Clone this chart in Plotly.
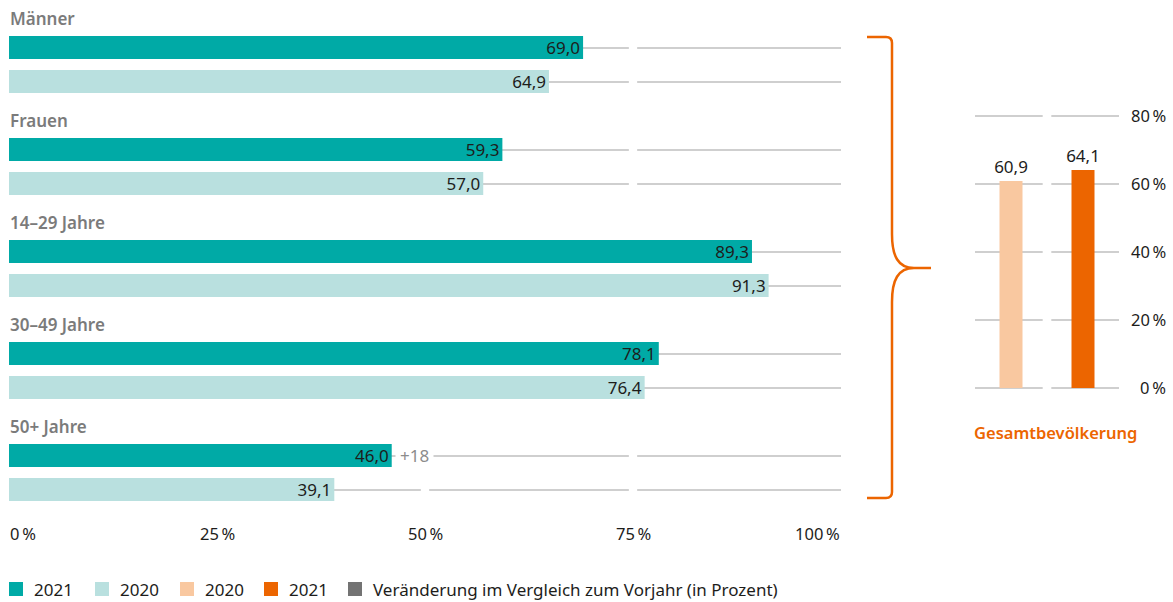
import plotly.graph_objects as go

W, H = 1173, 602

# ---------------- data ----------------
categories = ["Männer", "Frauen", "14–29 Jahre", "30–49 Jahre", "50+ Jahre"]
values_2021 = [69.0, 59.3, 89.3, 78.1, 46.0]
values_2020 = [64.9, 57.0, 91.3, 76.4, 39.1]
change_2021 = ["", "", "", "", "+18"]
x_ticks = [0, 25, 50, 75, 100]
x_tick_labels = ["0\u2009%", "25\u2009%", "50\u2009%", "75\u2009%", "100\u2009%"]

total_years = ["2020", "2021"]
total_values = [60.9, 64.1]
total_label = "Gesamtbevölkerung"
y2_ticks = [0, 20, 40, 60, 80]
y2_tick_labels = ["0\u2009%", "20\u2009%", "40\u2009%", "60\u2009%", "80\u2009%"]

legend_labels = ["2021", "2020", "2020", "2021",
                 "Veränderung im Vergleich zum Vorjahr (in Prozent)"]

# ---------------- styles ----------------
TEAL = "#00AAA6"
LTEAL = "#B9E0DF"
LORANGE = "#F9C8A0"
ORANGE = "#EC6500"
LEGGRAY = "#737373"
GRID = "#cfcfcf"
DARK = "#1d1d1b"
LABELGRAY = "#7b7b7b"
FONT = "Noto Sans"
legend_colors = [TEAL, LTEAL, LORANGE, ORANGE, LEGGRAY]
legend_x = [9, 95, 180, 264, 348]


def px(x):
    return x / W


def py(y):
    return 1 - y / H


BAND = 102.0          # pixel height of one category band
BAR_H = 23.0
SLOT = 17.0           # distance from band centre to bar centre
idx = list(range(len(categories)))

fig = go.Figure()

fig.add_trace(go.Bar(
    y=idx, x=values_2021, orientation="h", name="2021",
    offset=-(SLOT + BAR_H / 2) / BAND, width=BAR_H / BAND,
    marker=dict(color=TEAL, line=dict(width=0)),
    texttemplate="%{x:.1f}", textposition="inside", insidetextanchor="end",
    constraintext="none", textfont=dict(color=DARK, size=17, family=FONT),
    cliponaxis=False, showlegend=False, xaxis="x", yaxis="y"))
fig.add_trace(go.Bar(
    y=idx, x=values_2020, orientation="h", name="2020",
    offset=(SLOT - BAR_H / 2) / BAND, width=BAR_H / BAND,
    marker=dict(color=LTEAL, line=dict(width=0)),
    texttemplate="%{x:.1f}", textposition="inside", insidetextanchor="end",
    constraintext="none", textfont=dict(color=DARK, size=17, family=FONT),
    cliponaxis=False, showlegend=False, xaxis="x", yaxis="y"))

fig.add_trace(go.Bar(
    x=total_years, y=total_values, width=23 / 72,
    marker=dict(color=[LORANGE, ORANGE], line=dict(width=0)),
    texttemplate="%{y:.1f}", textposition="outside", constraintext="none",
    textfont=dict(color=DARK, size=17, family=FONT),
    cliponaxis=False, showlegend=False, xaxis="x2", yaxis="y2"))

row_lines = []
for i in idx:
    row_lines += [i - SLOT / BAND, i + SLOT / BAND]

fig.update_layout(
    width=W, height=H, margin=dict(l=0, r=0, t=0, b=0),
    paper_bgcolor="white", plot_bgcolor="white",
    barmode="overlay", separators=",.",
    font=dict(family=FONT, size=16, color=DARK),
    xaxis=dict(domain=[px(9), px(841)], range=[0, 100], showgrid=False,
               zeroline=False, showticklabels=False, ticks="", fixedrange=True),
    yaxis=dict(domain=[py(523.5), py(13.5)], range=[len(categories) - 0.5, -0.5],
               tickvals=row_lines, showgrid=True, gridcolor=GRID, gridwidth=2,
               zeroline=False, showticklabels=False, ticks=""),
    xaxis2=dict(domain=[px(975), px(1119)], range=[-0.5, 1.5], type="category",
                showgrid=False, zeroline=False, showticklabels=False, ticks="",
                anchor="y2"),
    yaxis2=dict(domain=[py(389.7), py(114.3)], range=[-0.5, 80.5],
                tickvals=y2_ticks, showgrid=True, gridcolor=GRID, gridwidth=1.5,
                zeroline=False, showticklabels=False, ticks="", anchor="x2"),
)

shapes = []
# gaps in row lines at tick positions
for t in x_ticks[1:-1]:
    shapes.append(dict(type="rect", xref="x", yref="y", x0=t - 0.5, x1=t + 0.5,
                       y0=-0.5, y1=len(categories) - 0.5, fillcolor="white",
                       line=dict(width=0), layer="between"))
shapes.append(dict(type="rect", xref="x2", yref="y2", x0=0.44, x1=0.56,
                   y0=-2, y1=82, fillcolor="white", line=dict(width=0),
                   layer="between"))


def path(cmds):
    out = []
    for c in cmds:
        if isinstance(c, str):
            out.append(c)
        else:
            out.append(f"{px(c[0]):.5f},{py(c[1]):.5f}")
    return " ".join(out)


brace = path(["M", (867, 37), "L", (886, 37), "Q", (892, 37), (892, 43),
              "L", (892, 234), "C", (892, 256), (898, 268), (914, 268),
              "L", (931, 268), "M", (914, 268),
              "C", (898, 268), (892, 280), (892, 302),
              "L", (892, 492), "Q", (892, 498), (886, 498), "L", (867, 498)])
shapes.append(dict(type="path", xref="paper", yref="paper", path=brace,
                   line=dict(color=ORANGE, width=2.5)))

# legend squares
for x, c in zip(legend_x, legend_colors):
    shapes.append(dict(type="rect", xref="paper", yref="paper",
                       x0=px(x), x1=px(x + 14), y0=py(596), y1=py(582),
                       fillcolor=c, line=dict(width=0)))
fig.update_layout(shapes=shapes)

ann = []
for i, c in zip(idx, categories):
    ann.append(dict(x=0, y=i, xref="x", yref="y", text=c, showarrow=False,
                    xanchor="left", yanchor="middle", yshift=46.5, xshift=-1,
                    font=dict(family=FONT, size=17, color=LABELGRAY, weight=600)))
for i, v, ch in zip(idx, values_2021, change_2021):
    if ch:
        ann.append(dict(x=v, y=i - SLOT / BAND, xref="x", yref="y", text=ch,
                        showarrow=False, xanchor="left", yanchor="middle",
                        xshift=3, bgcolor="white", borderpad=4,
                        font=dict(family=FONT, size=17, color="#8c8c8c")))
for t, lab in zip(x_ticks, x_tick_labels):
    anchor = "left" if t == x_ticks[0] else ("right" if t == x_ticks[-1] else "center")
    shift = -1 if t == x_ticks[0] else (1 if t == x_ticks[-1] else 0)
    ann.append(dict(x=t, y=py(533), xref="x", yref="paper", text=lab,
                    showarrow=False, xanchor=anchor, yanchor="middle", xshift=shift,
                    font=dict(family=FONT, size=16.5, color=DARK)))
for t, lab in zip(y2_ticks, y2_tick_labels):
    ann.append(dict(x=px(1168), y=t, xref="paper", yref="y2", text=lab,
                    showarrow=False, xanchor="right", yanchor="middle",
                    font=dict(family=FONT, size=16.5, color=DARK)))
ann.append(dict(x=px(1055), y=py(432), xref="paper", yref="paper",
                text=total_label, showarrow=False, xanchor="center",
                yanchor="middle",
                font=dict(family=FONT, size=16.5, color=ORANGE, weight=600)))
for x, lab in zip(legend_x, legend_labels):
    ann.append(dict(x=px(x + 23), y=py(589), xref="paper", yref="paper",
                    text=lab, showarrow=False, xanchor="left", yanchor="middle",
                    font=dict(family=FONT, size=17, color=DARK)))
fig.update_layout(annotations=ann)

fig.write_html("out.html")
